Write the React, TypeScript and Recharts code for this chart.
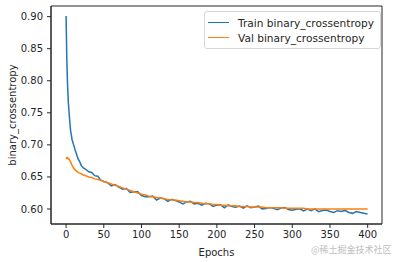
import React from 'react'
import { LineChart, Line, XAxis, YAxis, Legend, CartesianGrid } from 'recharts'

const epochs = [
  0, 1, 2, 3, 4, 5, 6, 8, 10, 12, 14, 16, 18, 20, 23, 26, 30, 34, 38, 42, 46, 50,
  55, 60, 65, 70, 75, 80, 85, 90, 95, 100, 105, 110, 115, 120, 125, 130, 135, 140, 145, 150,
  155, 160, 165, 170, 175, 180, 185, 190, 195, 200, 205, 210, 215, 220, 225, 230, 235, 240, 245, 250,
  255, 260, 265, 270, 275, 280, 285, 290, 295, 300, 305, 310, 315, 320, 325, 330, 335, 340, 345, 350,
  355, 360, 365, 370, 375, 380, 385, 390, 395, 400,
]

const trainLoss = [
  0.901, 0.832, 0.792, 0.766, 0.75, 0.735, 0.722, 0.708, 0.7, 0.692, 0.685, 0.678, 0.674, 0.668, 0.664, 0.662, 0.658, 0.657, 0.652, 0.651, 0.645, 0.643,
  0.641, 0.636, 0.638, 0.634, 0.631, 0.632, 0.626, 0.627, 0.627, 0.621, 0.619, 0.619, 0.62, 0.614, 0.617, 0.616, 0.612, 0.615, 0.613, 0.611,
  0.608, 0.611, 0.612, 0.608, 0.609, 0.606, 0.609, 0.608, 0.604, 0.606, 0.6065, 0.602, 0.6065, 0.604, 0.6027, 0.6045, 0.6013, 0.605, 0.602, 0.603,
  0.6046, 0.6002, 0.6008, 0.6024, 0.601, 0.5988, 0.6016, 0.6024, 0.5992, 0.598, 0.5997, 0.6004, 0.5971, 0.5998, 0.5975, 0.6002, 0.5959, 0.5976, 0.5983, 0.596,
  0.5947, 0.5974, 0.5961, 0.5978, 0.5945, 0.5932, 0.5959, 0.5946, 0.5933, 0.592,
]

const valLoss = [
  0.681, 0.679, 0.68, 0.678, 0.678, 0.676, 0.673, 0.668, 0.664, 0.661, 0.659, 0.657, 0.656, 0.655, 0.653, 0.652, 0.65, 0.649, 0.647, 0.646, 0.645, 0.643,
  0.641, 0.639, 0.637, 0.635, 0.633, 0.631, 0.629, 0.627, 0.625, 0.623, 0.622, 0.62, 0.619, 0.618, 0.617, 0.616, 0.615, 0.614, 0.614, 0.613,
  0.612, 0.611, 0.611, 0.61, 0.61, 0.609, 0.608, 0.608, 0.607, 0.607, 0.606, 0.606, 0.605, 0.605, 0.605, 0.604, 0.604, 0.604, 0.603, 0.603,
  0.603, 0.603, 0.602, 0.602, 0.602, 0.602, 0.602, 0.601, 0.601, 0.601, 0.601, 0.601, 0.601, 0.6, 0.6, 0.6, 0.6, 0.6, 0.6, 0.6,
  0.6, 0.6, 0.6, 0.6, 0.6, 0.6, 0.6, 0.6, 0.6, 0.6,
]

const xTicks = [0, 50, 100, 150, 200, 250, 300, 350, 400]
const yTicks = [0.6, 0.65, 0.7, 0.75, 0.8, 0.85, 0.9]
const xDomain = [-20, 419]
const yDomain = [0.5766, 0.9166]

const data = epochs.map((e, i) => ({ epoch: e, train: trainLoss[i], val: valLoss[i] }))

const font = '"DejaVu Sans", sans-serif'
const tickStyle = { fontSize: 10, fill: '#262626', fontFamily: font }

function MyLegend(props: any) {
  const items = props.payload || []
  return (
    <div
      style={{
        border: '1px solid #d6d6d6',
        borderRadius: 3,
        background: 'rgba(255,255,255,0.8)',
        padding: '3px 6px 3px 3px',
        fontFamily: font,
        fontSize: 10.6,
        color: '#262626',
      }}
    >
      {items.map((it: any) => (
        <div key={it.value} style={{ display: 'flex', alignItems: 'center', height: 15 }}>
          <span style={{ display: 'inline-block', width: 21, height: 0, borderTop: `1.5px solid ${it.color}`, marginRight: 9 }} />
          <span>{it.value}</span>
        </div>
      ))}
    </div>
  )
}

export default function App() {
  return (
    <div style={{ position: 'absolute', left: 0, top: 0, width: 393, height: 262, background: '#fff' }}>
      <LineChart width={393} height={262} data={data} margin={{ top: 6, right: 11, left: 0, bottom: 0 }}>
        {/* plain frame round the plot, like matplotlib's spines */}
        <CartesianGrid
          stroke="#262626"
          strokeWidth={1}
          horizontalPoints={[6, 224]}
          verticalPoints={[51, 382]}
        />
        <XAxis
          dataKey="epoch"
          type="number"
          domain={xDomain}
          ticks={xTicks}
          tick={tickStyle}
          tickSize={4}
          tickMargin={3}
          height={38}
          stroke="#262626"
          tickLine={{ stroke: '#262626' }}
          label={{ value: 'Epochs', position: 'insideBottom', offset: 6, style: { ...tickStyle } }}
          allowDataOverflow
        />
        <YAxis
          type="number"
          domain={yDomain}
          ticks={yTicks}
          tickFormatter={(v: number) => v.toFixed(2)}
          tick={tickStyle}
          tickSize={4}
          tickMargin={4}
          width={51}
          stroke="#262626"
          tickLine={{ stroke: '#262626' }}
          allowDataOverflow
          label={{ value: 'binary_crossentropy', angle: -90, position: 'insideLeft', offset: 12, style: { ...tickStyle, textAnchor: 'middle' } }}
        />
        <Legend
          content={<MyLegend />}
          layout="vertical"
          verticalAlign="middle"
          align="center"
          wrapperStyle={{ position: 'absolute', top: 11, right: 12, left: 'auto', width: 'auto' }}
        />
        <Line type="linear" dataKey="train" name="Train binary_crossentropy" stroke="#1f77b4" strokeWidth={1.5} dot={false} isAnimationActive={false} />
        <Line type="linear" dataKey="val" name="Val binary_crossentropy" stroke="#ff7f0e" strokeWidth={1.5} dot={false} isAnimationActive={false} />
      </LineChart>
      <div style={{ position: 'absolute', left: 311, top: 243, fontSize: 9, color: '#bdbdbd', fontFamily: '"Noto Sans CJK SC", sans-serif', whiteSpace: 'nowrap' }}>
        @稀土掘金技术社区
      </div>
    </div>
  )
}
